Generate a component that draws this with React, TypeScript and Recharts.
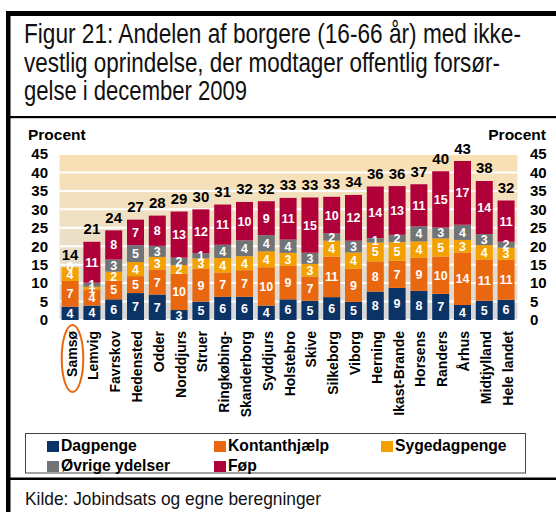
import React from 'react';
import { BarChart, Bar, XAxis, YAxis, CartesianGrid, LabelList } from 'recharts';

const categories = ['Samsø', 'Lemvig', 'Favrskov', 'Hedensted', 'Odder', 'Norddjurs', 'Struer', 'Ringkøbing-', 'Skanderborg', 'Syddjurs', 'Holstebro', 'Skive', 'Silkeborg', 'Viborg', 'Herning', 'Ikast-Brande', 'Horsens', 'Randers', 'Århus', 'Midtjylland', 'Hele landet'];
const dagpenge = [3.6, 3.9, 5.6, 7.3, 6.9, 2.7, 5.0, 6.3, 6.3, 3.9, 5.6, 5.2, 6.2, 4.9, 7.7, 8.7, 7.9, 7.1, 4.1, 5.2, 5.5];
const kontanthjaelp = [7.0, 4.4, 5.1, 4.6, 6.8, 9.8, 8.9, 6.6, 7.2, 10.4, 9.2, 6.6, 11.0, 9.0, 8.2, 7.4, 9.0, 10.1, 14.2, 11.2, 10.8];
const sygedagpenge = [3.7, 0.7, 2.4, 3.8, 3.4, 2.4, 2.8, 3.9, 3.8, 4.3, 3.4, 3.4, 4.3, 4.4, 5.1, 5.0, 4.4, 4.9, 3.4, 3.9, 3.3];
const oevrige = [0, 1.1, 3.3, 4.6, 3.0, 2.0, 1.4, 3.6, 4.3, 4.4, 3.6, 3.0, 2.0, 3.2, 1.2, 2.0, 4.1, 3.0, 4.1, 3.0, 1.6];
const foep = [0, 11.1, 7.9, 6.9, 8.2, 12.5, 11.9, 10.9, 10.4, 9.2, 11.3, 15.0, 9.9, 12.4, 14.0, 13.2, 11.4, 15.2, 17.3, 14.4, 11.2];
const yTicks = [0, 5, 10, 15, 20, 25, 30, 35, 40, 45];

const titleLines = [
  'Figur 21: Andelen af borgere (16-66 år) med ikke-',
  'vestlig oprindelse, der modtager offentlig forsør-',
  'gelse i december 2009',
];
const sourceText = 'Kilde: Jobindsats og egne beregninger';
const axisUnit = 'Procent';

const series = [
  { key: 'dagpenge', name: 'Dagpenge', color: '#0B3365', values: dagpenge },
  { key: 'kontanthjaelp', name: 'Kontanthjælp', color: '#E9670E', values: kontanthjaelp },
  { key: 'sygedagpenge', name: 'Sygedagpenge', color: '#F4A100', values: sygedagpenge },
  { key: 'oevrige', name: 'Øvrige ydelser', color: '#707477', values: oevrige },
  { key: 'foep', name: 'Føp', color: '#B0003A', values: foep },
];

const data = categories.map((name, i) => {
  const row: any = { name };
  series.forEach((s) => { row[s.key] = s.values[i]; });
  return row;
});

const totals = categories.map((_, i) => series.reduce((acc, s) => acc + s.values[i], 0));
const topSeries = categories.map((_, i) => {
  let top = 0;
  series.forEach((s, si) => { if (s.values[i] > 0) top = si; });
  return top;
});

const FONT = "'Liberation Sans', Arial, sans-serif";
const NARROW = "'Liberation Sans Narrow', 'Arial Narrow', 'Liberation Sans', sans-serif";

const geom = (p: any) => {
  const vb = p.viewBox || {};
  return {
    x: vb.x ?? p.x,
    y: vb.y ?? p.y,
    width: vb.width ?? p.width,
    height: vb.height ?? p.height,
  };
};

const rowName = (d: any) => d.name;

const makeLabel = (si: number) => (p: any) => {
  const g = geom(p);
  if (g.x == null) return null;
  const i = categories.indexOf(p.value);
  if (i < 0) return null;
  const cx = g.x + g.width / 2;
  const v = series[si].values[i];
  const isTop = topSeries[i] === si;
  const zerosAbove = isTop && series.some((s, k) => k > si && s.values[i] === 0);
  return (
    <g>
      <text
        x={cx}
        y={g.y + g.height / 2}
        dy="0.36em"
        textAnchor="middle"
        fill="#fff"
        fontSize={12.5}
        fontWeight={700}
        fontFamily={FONT}
      >
        {Math.round(v)}
      </text>
      {zerosAbove ? (
        <text x={cx} y={g.y - 1} dy="0.36em" textAnchor="middle" fill="#fff" fontSize={12.5} fontWeight={700} fontFamily={FONT}>
          0
        </text>
      ) : null}
      {isTop ? (
        <text x={cx} y={g.y - 7.5} textAnchor="middle" fill="#000" fontSize={15} fontWeight={700} fontFamily={FONT}>
          {Math.round(totals[i])}
        </text>
      ) : null}
    </g>
  );
};

const XTick = (p: any) => {
  const { x, y, payload } = p;
  return (
    <text
      transform={`translate(${x + 6},${y + 11}) rotate(-90)`}
      textAnchor="end"
      fill="#000"
      fontSize={14}
      fontWeight={700}
      fontFamily={FONT}
    >
      {payload.value}
    </text>
  );
};

const legendPos = [
  { x: 47, y: 441 },
  { x: 214, y: 441 },
  { x: 381, y: 441 },
  { x: 47, y: 461 },
  { x: 214, y: 461 },
];

export default function App() {
  return (
    <div style={{ position: 'absolute', left: 0, top: 0, width: 556, height: 512, background: '#fff', fontFamily: FONT }}>
      <svg width={0} height={0} style={{ position: 'absolute' }}>
        <defs>
          <linearGradient id="bgGrad" x1="0" y1="0" x2="0" y2="1">
            <stop offset="0%" stopColor="#FAE0B2" />
            <stop offset="45%" stopColor="#EEE0C6" />
            <stop offset="100%" stopColor="#D8D8D8" />
          </linearGradient>
        </defs>
      </svg>
      <div style={{ position: 'absolute', left: 0, top: 0 }}>
        <BarChart
          width={556}
          height={512}
          data={data}
          margin={{ top: 154, right: 0, bottom: 92, left: 0 }}
          barSize={17}
        >
          <CartesianGrid
            vertical={false}
            stroke="#ffffff"
            strokeWidth={2}
            fill="url(#bgGrad)"
            fillOpacity={1}
          />
          <XAxis
            dataKey="name"
            interval={0}
            axisLine={false}
            tickLine={false}
            tickSize={0}
            tickMargin={0}
            height={100}
            tick={<XTick />}
          />
          <YAxis
            yAxisId={0}
            orientation="left"
            domain={[0, 45]}
            ticks={yTicks}
            interval={0}
            width={59.6}
            axisLine={false}
            tickLine={false}
            tickSize={0}
            tickMargin={11.6}
            tick={{ fontSize: 15, fontWeight: 700, fill: '#000' }}
          />
          <YAxis
            yAxisId="right"
            orientation="right"
            domain={[0, 45]}
            allowDataOverflow
            ticks={yTicks}
            interval={0}
            width={38.6}
            axisLine={false}
            tickLine={false}
            tickSize={0}
            tickMargin={12.6}
            tick={{ fontSize: 15, fontWeight: 700, fill: '#000', textAnchor: 'start' }}
          />
          {series.map((s, si) => (
            <Bar
              key={s.key}
              dataKey={s.key}
              name={s.name}
              stackId="a"
              fill={s.color}
              isAnimationActive={false}
            >
              <LabelList dataKey={rowName} content={makeLabel(si)} />
            </Bar>
          ))}
        </BarChart>
      </div>
      <svg width={556} height={512} style={{ position: 'absolute', left: 0, top: 0, pointerEvents: 'none' }}>
        <rect x={6} y={11} width={550} height={5} fill="#000" />
        <rect x={6} y={11} width={4.5} height={501} fill="#000" />
        <rect x={6} y={116} width={550} height={2.2} fill="#000" />
        <rect x={6} y={477.5} width={550} height={2.5} fill="#000" />
        {titleLines.map((t, i) => (
          <text
            key={i}
            x={24}
            y={43 + i * 28.5}
            fontSize={28}
            fontFamily={NARROW}
            fill="#111"
            textLength={[497, 476, 223][i]}
            lengthAdjust="spacingAndGlyphs"
          >
            {t}
          </text>
        ))}
        <text x={28} y={139.5} fontSize={15.5} fontWeight={700} fontFamily={FONT} fill="#000">{axisUnit}</text>
        <text x={546} y={139.5} fontSize={15.5} fontWeight={700} fontFamily={FONT} fill="#000" textAnchor="end">{axisUnit}</text>
        <ellipse cx={72.5} cy={358.5} rx={10.8} ry={33.5} fill="none" stroke="#E9670E" strokeWidth={2} />
        <rect x={25.5} y={433.5} width={500} height={39.5} fill="#fff" stroke="#444" strokeWidth={1} />
        {series.map((s, i) => (
          <g key={s.key}>
            <rect x={legendPos[i].x} y={legendPos[i].y} width={12} height={11} fill={s.color} />
            <text x={legendPos[i].x + 14} y={legendPos[i].y + 10} fontSize={15.7} fontWeight={700} fontFamily={FONT} fill="#000">
              {s.name}
            </text>
          </g>
        ))}
        <text x={25} y={505} fontSize={18.5} fontFamily={NARROW} fill="#111" textLength={296} lengthAdjust="spacingAndGlyphs">
          {sourceText}
        </text>
      </svg>
    </div>
  );
}
